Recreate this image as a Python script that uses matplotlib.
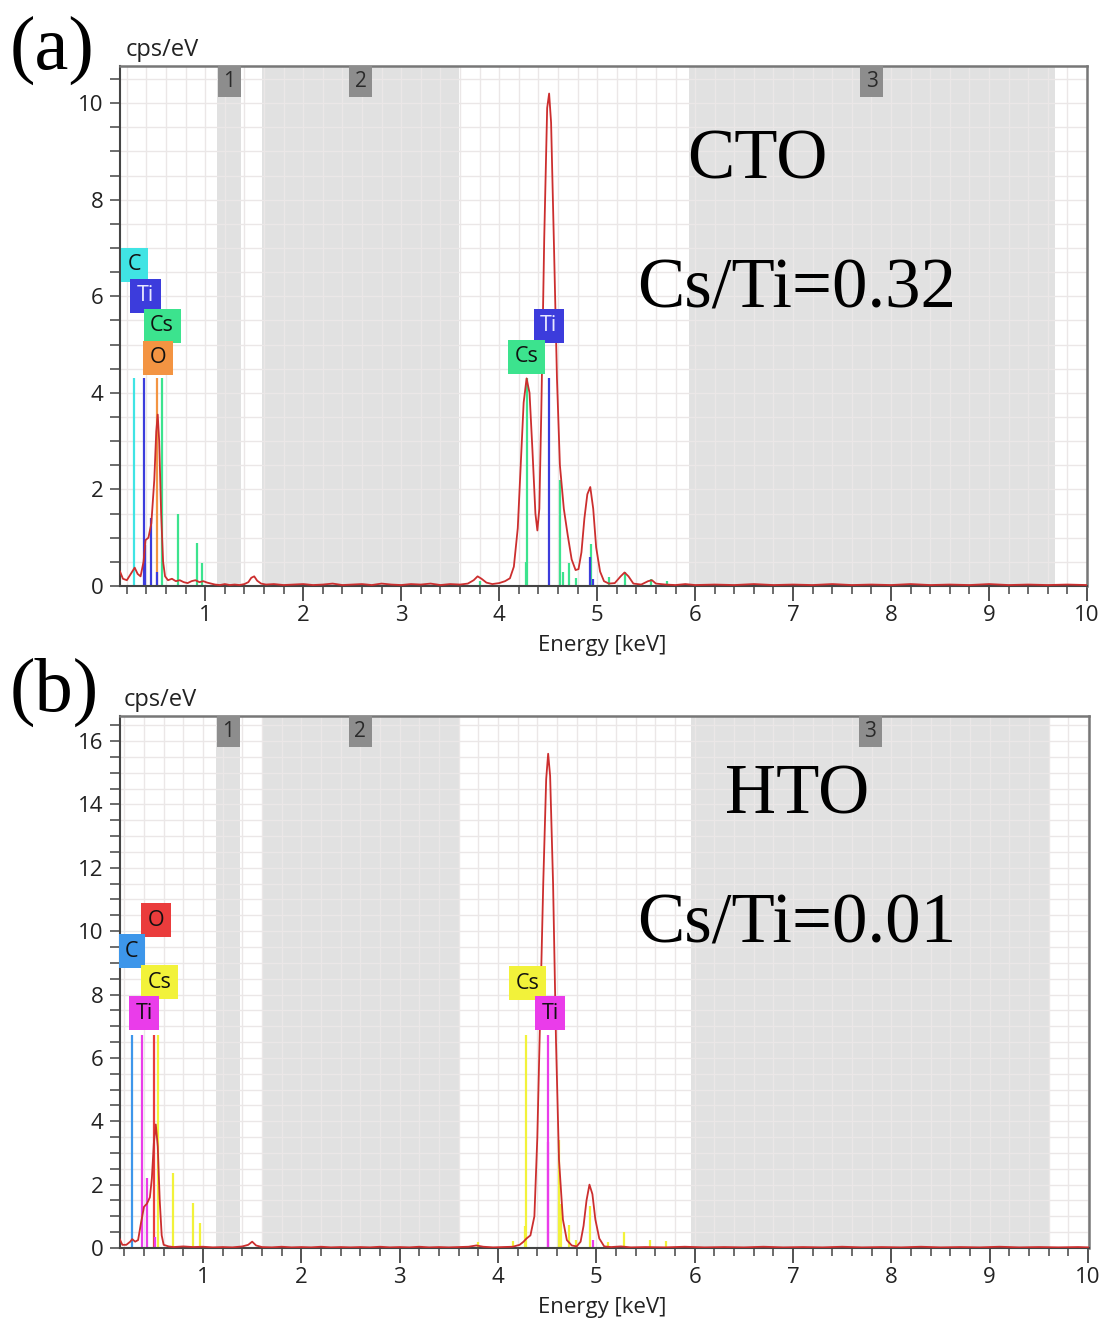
import matplotlib
matplotlib.use("Agg")
import matplotlib.pyplot as plt
import matplotlib.transforms as mtransforms
from matplotlib.patches import Rectangle
import numpy as np

# ---------------- DATA ----------------
# Panel (a) CTO spectrum (keV, cps/eV)
a_energy = [0.13, 0.16, 0.20, 0.24, 0.28, 0.31, 0.34, 0.37, 0.39, 0.42, 0.45, 0.48, 0.50, 0.515, 0.53,
            0.55, 0.57, 0.59, 0.62, 0.66, 0.70, 0.74, 0.78, 0.82, 0.86, 0.90, 0.94, 0.98, 1.02, 1.06,
            1.10, 1.15, 1.20, 1.25, 1.30, 1.35, 1.40, 1.44, 1.47, 1.50, 1.53, 1.57, 1.62, 1.70, 1.80,
            1.90, 2.00, 2.10, 2.20, 2.30, 2.40, 2.50, 2.60, 2.70, 2.80, 2.90, 3.00, 3.10, 3.20, 3.30,
            3.40, 3.50, 3.60, 3.68, 3.74, 3.78, 3.82, 3.87, 3.93, 4.00, 4.06, 4.11, 4.15, 4.19, 4.22,
            4.25, 4.28, 4.31, 4.34, 4.37, 4.39, 4.41, 4.43, 4.46, 4.49, 4.51, 4.53, 4.56, 4.59, 4.62,
            4.66, 4.70, 4.74, 4.78, 4.81, 4.84, 4.87, 4.90, 4.93, 4.96, 4.99, 5.03, 5.07, 5.12, 5.18,
            5.24, 5.28, 5.32, 5.37, 5.45, 5.52, 5.56, 5.60, 5.70, 5.80, 5.90, 6.00, 6.20, 6.40, 6.60,
            6.80, 7.00, 7.20, 7.40, 7.60, 7.80, 8.00, 8.20, 8.40, 8.60, 8.80, 9.00, 9.20, 9.40, 9.60,
            9.80, 10.0]
a_counts = [0.30, 0.15, 0.12, 0.25, 0.38, 0.25, 0.20, 0.50, 0.95, 1.00, 1.30, 2.20, 3.20, 3.55, 3.00,
            1.50, 0.50, 0.20, 0.12, 0.15, 0.10, 0.12, 0.08, 0.06, 0.10, 0.12, 0.08, 0.10, 0.07, 0.05,
            0.03, 0.02, 0.04, 0.02, 0.03, 0.02, 0.04, 0.08, 0.17, 0.20, 0.11, 0.05, 0.03, 0.04, 0.02,
            0.03, 0.04, 0.02, 0.03, 0.05, 0.02, 0.03, 0.04, 0.02, 0.05, 0.03, 0.02, 0.04, 0.03, 0.05,
            0.02, 0.04, 0.03, 0.05, 0.12, 0.20, 0.15, 0.07, 0.04, 0.06, 0.10, 0.16, 0.40, 1.20, 2.50,
            3.80, 4.30, 4.00, 2.80, 1.50, 1.15, 1.60, 3.60, 7.20, 9.90, 10.20, 9.60, 7.00, 4.30, 2.50,
            1.60, 1.05, 0.55, 0.33, 0.35, 0.70, 1.40, 1.90, 2.05, 1.60, 0.80, 0.30, 0.10, 0.05, 0.06,
            0.20, 0.28, 0.20, 0.05, 0.03, 0.10, 0.12, 0.05, 0.03, 0.02, 0.04, 0.02, 0.03, 0.02, 0.04,
            0.02, 0.03, 0.02, 0.04, 0.02, 0.03, 0.02, 0.04, 0.02, 0.03, 0.02, 0.04, 0.02, 0.03, 0.02,
            0.03, 0.02]

# Panel (a) characteristic lines
a_C_e, a_C_h = [0.277], [4.3]
a_Ti_e = [0.38, 0.385, 0.45, 0.51, 4.51, 4.93, 4.96]
a_Ti_h = [4.3, 0.85, 1.40, 0.28, 4.3, 0.60, 0.15]
a_Cs_e = [0.56, 0.72, 0.915, 0.966, 3.80, 4.27, 4.286, 4.62, 4.65, 4.71, 4.78, 4.935, 5.12, 5.28, 5.55, 5.71]
a_Cs_h = [4.3, 1.50, 0.90, 0.48, 0.10, 0.50, 4.3, 2.20, 0.28, 0.47, 0.16, 0.87, 0.18, 0.30, 0.15, 0.10]
a_O_e, a_O_h = [0.51], [4.3]

# Panel (b) HTO spectrum
b_energy = [0.15, 0.18, 0.22, 0.26, 0.28, 0.31, 0.34, 0.37, 0.40, 0.43, 0.46, 0.48, 0.50, 0.52, 0.54,
            0.56, 0.58, 0.60, 0.65, 0.70, 0.80, 0.90, 1.00, 1.10, 1.20, 1.30, 1.40, 1.46, 1.50, 1.54,
            1.60, 1.70, 1.80, 1.90, 2.00, 2.10, 2.20, 2.30, 2.40, 2.50, 2.60, 2.70, 2.80, 2.90, 3.00,
            3.10, 3.20, 3.30, 3.40, 3.50, 3.60, 3.70, 3.78, 3.85, 3.95, 4.05, 4.15, 4.22, 4.26, 4.29,
            4.33, 4.37, 4.40, 4.43, 4.46, 4.49, 4.51, 4.53, 4.56, 4.59, 4.62, 4.66, 4.70, 4.75, 4.80,
            4.84, 4.87, 4.90, 4.93, 4.96, 4.99, 5.03, 5.08, 5.15, 5.25, 5.35, 5.50, 5.70, 5.90, 6.10,
            6.30, 6.50, 6.70, 6.90, 7.10, 7.30, 7.50, 7.70, 7.90, 8.10, 8.30, 8.50, 8.70, 8.90, 9.10,
            9.30, 9.50, 9.70, 9.90, 10.0]
b_counts = [0.30, 0.10, 0.10, 0.20, 0.28, 0.20, 0.25, 0.80, 1.30, 1.40, 1.60, 2.20, 3.30, 3.90, 3.20,
            1.50, 0.40, 0.10, 0.05, 0.03, 0.05, 0.03, 0.04, 0.02, 0.03, 0.02, 0.05, 0.10, 0.20, 0.08,
            0.03, 0.02, 0.04, 0.02, 0.03, 0.02, 0.04, 0.02, 0.03, 0.02, 0.03, 0.02, 0.04, 0.02, 0.03,
            0.02, 0.04, 0.02, 0.03, 0.02, 0.03, 0.04, 0.08, 0.04, 0.02, 0.03, 0.04, 0.10, 0.20, 0.30,
            0.40, 1.00, 3.50, 7.50, 11.5, 14.8, 15.6, 14.9, 11.5, 6.50, 2.80, 0.90, 0.25, 0.08, 0.05,
            0.20, 0.70, 1.50, 2.00, 1.70, 0.90, 0.30, 0.05, 0.03, 0.05, 0.02, 0.03, 0.02, 0.04, 0.02,
            0.03, 0.02, 0.04, 0.02, 0.03, 0.02, 0.04, 0.02, 0.03, 0.02, 0.04, 0.02, 0.03, 0.02, 0.04,
            0.02, 0.03, 0.02, 0.03, 0.02]

# Panel (b) characteristic lines
b_C_e, b_C_h = [0.277], [6.72]
b_Ti_e = [0.375, 0.43, 0.51, 4.51, 4.505, 4.97]
b_Ti_h = [6.72, 2.20, 0.36, 6.72, 3.35, 0.25]
b_O_e, b_O_h = [0.50], [6.72]
b_Cs_e = [0.545, 0.70, 0.90, 0.966, 3.80, 4.15, 4.27, 4.286, 4.62, 4.64, 4.72, 4.79, 4.94, 5.12, 5.28, 5.55, 5.71]
b_Cs_h = [6.72, 2.36, 1.41, 0.78, 0.20, 0.23, 0.70, 6.72, 3.40, 1.40, 0.73, 0.25, 1.33, 0.20, 0.50, 0.25, 0.23]

# Element label positions (keV, cps/eV)
a_labels = [("C", 0.276, 6.65), ("Ti", 0.39, 6.01), ("Cs", 0.56, 5.39), ("O", 0.52, 4.73),
            ("Ti", 4.505, 5.39), ("Cs", 4.28, 4.75)]
b_labels = [("O", 0.52, 10.35), ("C", 0.276, 9.37), ("Cs", 0.56, 8.39), ("Ti", 0.40, 7.41),
            ("Cs", 4.30, 8.36), ("Ti", 4.53, 7.41)]

# Shaded regions (keV)
a_regions = [(1.12, 1.37), (1.58, 3.59), (5.94, 9.67)]
b_regions = [(1.13, 1.38), (1.60, 3.60), (5.96, 9.61)]
region_names = ["1", "2", "3"]

# ---------------- STYLE ----------------
a_colors = {"C": "#40e4e4", "Ti": "#3c3cdc", "Cs": "#3ce38e", "O": "#f39442"}
a_textc = {"C": "#111111", "Ti": "#e8e8ff", "Cs": "#111111", "O": "#111111"}
b_colors = {"C": "#3d96ea", "Ti": "#ea3cea", "Cs": "#f2f23a", "O": "#ea3c3c"}
b_textc = {"C": "#111111", "Ti": "#111111", "Cs": "#111111", "O": "#111111"}

plt.rcParams['font.family'] = ['Open Sans', 'DejaVu Sans']

fig = plt.figure(figsize=(11.07, 13.26), dpi=100)
W, H = 1107.0, 1326.0


def make_panel(rect, xlim, ylim, ymajor, energy, counts, lines, colors, textc, labels,
               regions, big1, big1_xy, big2, big2_xy, letter, letter_xy, cps_xy, xlabel_y):
    ax = fig.add_axes(rect)
    ax.set_xlim(*xlim)
    ax.set_ylim(*ylim)
    # shaded regions
    for (x0, x1) in regions:
        ax.axvspan(x0, x1, color="#e1e1e1", lw=0, zorder=0)
    # grid
    for gx in np.arange(0.2, 10.01, 0.2):
        ax.axvline(gx, color="#ebe7e7", lw=1.0, zorder=0.5)
    for gy in np.arange(0.5, ylim[1], 0.5):
        ax.axhline(gy, color="#ebe7e7", lw=1.0, zorder=0.5)
    # region boxes
    trans = mtransforms.blended_transform_factory(ax.transData, ax.transAxes)
    hfrac = 31.0 / (rect[3] * H)
    wdata = 23.0 / (rect[2] * W) * (xlim[1] - xlim[0])
    for (x0, x1), name in zip(regions, region_names):
        xc = 0.5 * (x0 + x1)
        ax.add_patch(Rectangle((xc - wdata / 2, 1 - hfrac), wdata, hfrac, transform=trans,
                               fc="#8d8d8d", ec="none", zorder=3))
        ax.text(xc, 1 - hfrac / 2, name, transform=trans, ha="center", va="center",
                fontsize=15, color="#2a2a2a", zorder=4)
    # element lines
    for el, (e, h) in lines.items():
        ax.vlines(e, 0, h, colors=colors[el], lw=1.6, zorder=2)
    # spectrum
    ax.plot(energy, counts, color="#cc2e2e", lw=1.3, zorder=3)
    # element labels
    for name, x, y in labels:
        ax.text(x, y, name, ha="center", va="center", fontsize=15.5, color=textc[name], zorder=5,
                bbox=dict(boxstyle="square,pad=0.3", fc=colors[name], ec="none"))
    # ticks
    ax.set_xticks(np.arange(1, 11, 1))
    ax.set_xticks(np.arange(0.2, 10.01, 0.2), minor=True)
    ax.set_yticks(np.arange(0, ylim[1], ymajor))
    ax.set_yticks(np.arange(0, ylim[1], 0.5), minor=True)
    ax.tick_params(axis="x", which="major", length=11, width=1.3, color="#444444",
                   labelsize=16, pad=3, labelcolor="#222222")
    ax.tick_params(axis="x", which="minor", length=6, width=1.1, color="#444444")
    ax.tick_params(axis="y", which="both", length=7, width=1.1, color="#444444",
                   labelsize=16, pad=5, labelcolor="#222222")
    for s in ["left", "bottom"]:
        ax.spines[s].set_color("#444444")
        ax.spines[s].set_linewidth(1.5)
    for s in ["top", "right"]:
        ax.spines[s].set_color("#777777")
        ax.spines[s].set_linewidth(1.8)
    # big annotations
    ax.text(big1_xy[0], big1_xy[1], big1, transform=ax.transAxes, ha="center", va="center",
            fontsize=51, family="Liberation Serif", color="black", zorder=6)
    ax.text(big2_xy[0], big2_xy[1], big2, transform=ax.transAxes, ha="center", va="center",
            fontsize=51, family="Liberation Serif", color="black", zorder=6)
    fig.text(letter_xy[0] / W, 1 - letter_xy[1] / H, letter, ha="left", va="center",
             fontsize=55, family="Liberation Serif")
    fig.text(cps_xy[0] / W, 1 - cps_xy[1] / H, "cps/eV", ha="left", va="center",
             fontsize=17, color="#222222")
    fig.text(602 / W, 1 - xlabel_y / H, "Energy [keV]", ha="center", va="center",
             fontsize=16, color="#222222")
    return ax


# Panel (a)
rect_a = [120 / W, 1 - 586 / H, 967 / W, 520 / H]
make_panel(rect_a, (0.13, 10.0), (0, 10.77), 2, a_energy, a_counts,
           {"C": (a_C_e, a_C_h), "Cs": (a_Cs_e, a_Cs_h), "O": (a_O_e, a_O_h), "Ti": (a_Ti_e, a_Ti_h)},
           a_colors, a_textc, a_labels, a_regions,
           "CTO", ((757 - 120) / 967, (586 - 161) / 520),
           "Cs/Ti=0.32", ((797 - 120) / 967, (586 - 290) / 520),
           "(a)", (10, 50), (126, 50), 645)

# Panel (b)
rect_b = [120 / W, 1 - 1248 / H, 969 / W, 532 / H]
make_panel(rect_b, (0.156, 10.01), (0, 16.79), 2, b_energy, b_counts,
           {"C": (b_C_e, b_C_h), "Cs": (b_Cs_e, b_Cs_h), "O": (b_O_e, b_O_h), "Ti": (b_Ti_e, b_Ti_h)},
           b_colors, b_textc, b_labels, b_regions,
           "HTO", ((797 - 120) / 969, (1248 - 796) / 532),
           "Cs/Ti=0.01", ((797 - 120) / 969, (1248 - 925) / 532),
           "(b)", (10, 692), (124, 700), 1307)

fig.savefig("out.png", dpi=100)
